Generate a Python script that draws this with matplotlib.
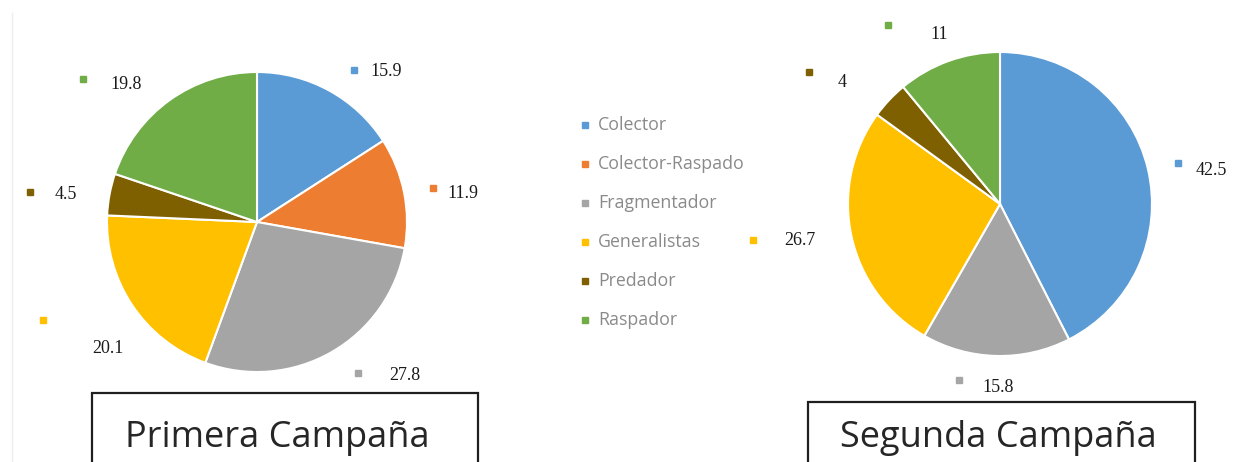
import matplotlib
matplotlib.use('Agg')
import matplotlib.pyplot as plt
from matplotlib.patches import Rectangle
import numpy as np

# ---------------- data ----------------
categories = ['Colector', 'Colector-Raspado', 'Fragmentador', 'Generalistas', 'Predador', 'Raspador']
primera_values = [15.9, 11.9, 27.8, 20.1, 4.5, 19.8]
segunda_values = [42.5, 0, 15.8, 26.7, 4, 11]
titles = ['Primera Campaña', 'Segunda Campaña']
colors = ['#5B9BD5', '#ED7D31', '#A5A5A5', '#FFC000', '#7F6000', '#70AD47']

# ---------------- layout (pixels, y downward) ----------------
W, H = 1243, 462
pie_centers = [(257, 222), (1000, 204)]
pie_radii = [150, 152]
# per-label nudges: (marker dx, marker dy, text dx, text dy) relative to radial base
label_nudges = [
    [(11, 6, 16, 0), (0, 1, 14, 4), (11, -5, 32, 0), (-64, -2, 49, 27), (-50, 3, 25, 1), (-69, 3, 27, 4)],
    [(1, 2, 17, 5), None, (-36, -6, 23, 5), (-69, -2, 32, -2), (-58, -7, 29, 8), (-50, -7, 42, 7)],
]
boxes = [(92, 393, 478), (808, 402, 1195)]
title_centers = [(277, 447), (998, 447)]
legend_x, legend_y0, legend_dy = 585, 125, 39

fig = plt.figure(figsize=(W / 100, H / 100), dpi=100)
ax = fig.add_axes([0, 0, 1, 1])


def Y(ypx):
    return H - ypx


def fmt(v):
    return ('%g' % v)


for k, vals in enumerate([primera_values, segunda_values]):
    cx, cy = pie_centers[k]
    R = pie_radii[k]
    idx = [i for i, v in enumerate(vals) if v > 0]
    ax.pie([vals[i] for i in idx], colors=[colors[i] for i in idx], startangle=90,
           counterclock=False, center=(cx, Y(cy)), radius=R, frame=True,
           wedgeprops=dict(edgecolor='white', linewidth=1.5))
    total = float(sum(vals))
    cum = 0.0
    for i, v in enumerate(vals):
        if v <= 0:
            continue
        mid = np.deg2rad((cum + v / 2.0) / total * 360.0)
        cum += v
        d = 1.2 * R
        bx = cx + d * np.sin(mid)
        by = cy - d * np.cos(mid)
        mdx, mdy, tdx, tdy = label_nudges[k][i]
        mx, my = bx + mdx, by + mdy
        ax.plot([mx], [Y(my)], marker='s', markersize=4.6, color=colors[i], linestyle='none')
        ax.text(mx + tdx, Y(my + tdy + 6.5), fmt(v), ha='left', va='baseline',
                fontsize=13, family='Liberation Serif', color='#1a1a1a')

# legend
for i, cat in enumerate(categories):
    y = legend_y0 + legend_dy * i
    ax.plot([legend_x], [Y(y)], marker='s', markersize=4.3, color=colors[i], linestyle='none')
    ax.text(legend_x + 13, Y(y), cat, ha='left', va='center', fontsize=12.8,
            family='Open Sans', color='#8a8a8a')

# title boxes
for k in range(2):
    x0, top, x1 = boxes[k]
    ax.add_patch(Rectangle((x0, Y(top + 100)), x1 - x0, 100, fill=False,
                           edgecolor='#1f1f1f', linewidth=1.6))
    tx, ty = title_centers[k]
    ax.text(tx, Y(ty), titles[k], ha='center', va='baseline', fontsize=26,
            family='Open Sans', color='#262626')

# faint chart-area edge
ax.plot([12, 12], [Y(13), Y(462)], color='#eeeeee', linewidth=1)

ax.set_xlim(0, W)
ax.set_ylim(0, H)
ax.set_aspect('auto')
ax.axis('off')
fig.savefig('out.png', dpi=100)
